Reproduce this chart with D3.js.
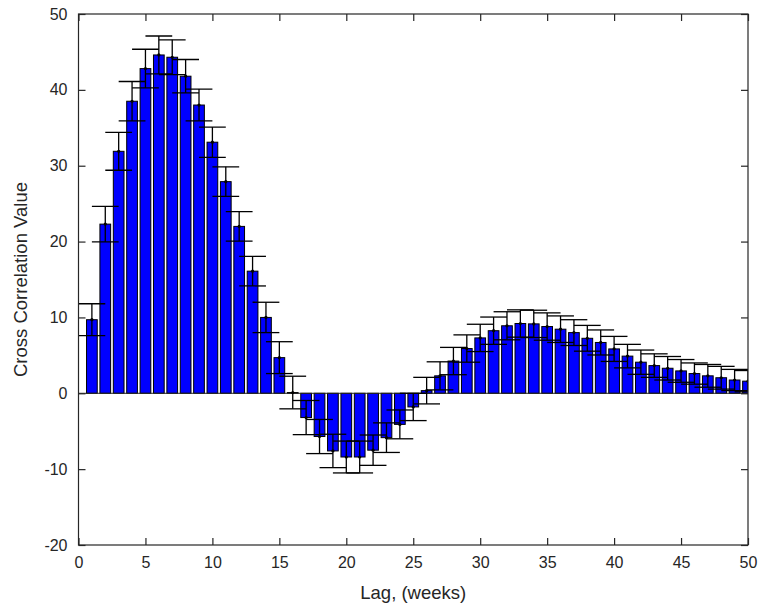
<!DOCTYPE html>
<html>
<head>
<meta charset="utf-8">
<script src="https://cdn.jsdelivr.net/npm/d3@7"></script>
<style>
  body { margin: 0; background: #fff; }
  svg text { font-family: "Liberation Sans", Arial, sans-serif; fill: #262626; }
</style>
</head>
<body>
<svg id="chart" width="759" height="610"></svg>
<script>
// Data
const lags = d3.range(1, 51);
const values = [
  9.7, 22.3, 31.9, 38.5, 42.8, 44.6, 44.3, 41.8, 38.0, 33.1,
  27.9, 22.0, 16.1, 10.0, 4.7, 0.1, -3.2, -5.7, -7.6, -8.4,
  -8.4, -7.5, -5.85, -4.1, -1.8, 0.35, 2.3, 4.25, 5.9, 7.3,
  8.25, 8.9, 9.2, 9.15, 8.8, 8.45, 8.0, 7.25, 6.7, 5.85,
  4.9, 4.1, 3.65, 3.3, 2.95, 2.6, 2.3, 2.05, 1.75, 1.6
];
const errors = [
  2.1, 2.35, 2.5, 2.6, 2.55, 2.5, 2.3, 2.2, 2.1, 2.0,
  1.95, 1.95, 1.95, 2.0, 2.1, 2.15, 2.25, 2.25, 2.2, 2.1,
  2.1, 2.0, 1.95, 1.9, 1.8, 1.75, 1.85, 1.8, 1.8, 1.8,
  1.8, 1.85, 1.8, 1.8, 1.8, 1.75, 1.7, 1.7, 1.65, 1.65,
  1.55, 1.6, 1.55, 1.55, 1.5, 1.4, 1.5, 1.5, 1.4, 1.4
];
const xTicks = [0, 5, 10, 15, 20, 25, 30, 35, 40, 45, 50];
const yTicks = [-20, -10, 0, 10, 20, 30, 40, 50];

const box = { left: 78.5, right: 748, top: 14, bottom: 545 };
const barWidth = 0.8;   // in x units
const capHalf = 1;      // cap half-width in x units
const tickLen = 7;

const svg = d3.select("#chart");

const x = d3.scaleLinear().domain([0, 50]).range([box.left, box.right]);
const y = d3.scaleLinear().domain([-20, 50]).range([box.bottom, box.top]);

svg.append("clipPath").attr("id", "plotclip")
  .append("rect")
  .attr("x", box.left).attr("y", box.top)
  .attr("width", box.right - box.left).attr("height", box.bottom - box.top);

const plot = svg.append("g").attr("clip-path", "url(#plotclip)");

// bars
plot.selectAll("rect.bar")
  .data(lags)
  .enter()
  .append("rect")
  .attr("class", "bar")
  .attr("x", (d) => x(d - barWidth / 2))
  .attr("width", x(barWidth) - x(0))
  .attr("y", (d, i) => y(Math.max(0, values[i])))
  .attr("height", (d, i) => Math.abs(y(values[i]) - y(0)))
  .attr("fill", "#0000ff")
  .attr("stroke", "#000")
  .attr("stroke-width", 1);

// baseline
plot.append("line")
  .attr("x1", box.left).attr("x2", box.right)
  .attr("y1", y(0)).attr("y2", y(0))
  .attr("stroke", "#262626").attr("stroke-width", 1);

// error bars
const eb = plot.selectAll("g.err")
  .data(lags)
  .enter()
  .append("g")
  .attr("class", "err")
  .attr("stroke", "#000")
  .attr("stroke-width", 1.3);

eb.append("line")
  .attr("x1", (d) => x(d)).attr("x2", (d) => x(d))
  .attr("y1", (d, i) => y(values[i] - errors[i]))
  .attr("y2", (d, i) => y(values[i] + errors[i]));

eb.append("line")
  .attr("x1", (d) => x(d - capHalf)).attr("x2", (d) => x(d + capHalf))
  .attr("y1", (d, i) => y(values[i] + errors[i]))
  .attr("y2", (d, i) => y(values[i] + errors[i]));

eb.append("line")
  .attr("x1", (d) => x(d - capHalf)).attr("x2", (d) => x(d + capHalf))
  .attr("y1", (d, i) => y(values[i] - errors[i]))
  .attr("y2", (d, i) => y(values[i] - errors[i]));

plot.selectAll("circle.pt")
  .data(lags)
  .enter()
  .append("circle")
  .attr("class", "pt")
  .attr("cx", (d) => x(d))
  .attr("cy", (d, i) => y(values[i]))
  .attr("r", 1.6)
  .attr("fill", "#000");

// axes box
svg.append("rect")
  .attr("x", box.left).attr("y", box.top)
  .attr("width", box.right - box.left).attr("height", box.bottom - box.top)
  .attr("fill", "none")
  .attr("stroke", "#262626")
  .attr("stroke-width", 1.2);

// ticks (inward, on all four sides), plain hyphen for negatives like MATLAB
const fmt = (d) => String(d);
const axB = d3.axisBottom(x).tickValues(xTicks).tickFormat(fmt).tickSizeInner(-tickLen).tickSizeOuter(0).tickPadding(12);
const axT = d3.axisTop(x).tickValues(xTicks).tickSizeInner(-tickLen).tickSizeOuter(0).tickFormat("");
const axL = d3.axisLeft(y).tickValues(yTicks).tickFormat(fmt).tickSizeInner(-tickLen).tickSizeOuter(0).tickPadding(11);
const axR = d3.axisRight(y).tickValues(yTicks).tickSizeInner(-tickLen).tickSizeOuter(0).tickFormat("");

function styleAxis(g) {
  g.select(".domain").remove();
  g.selectAll(".tick line").attr("stroke", "#262626").attr("stroke-width", 1.2);
  g.selectAll(".tick text").style("font-size", "16px").attr("fill", "#262626");
}

svg.append("g").attr("transform", `translate(0,${box.bottom})`).call(axB).call(styleAxis);
svg.append("g").attr("transform", `translate(0,${box.top})`).call(axT).call(styleAxis);
svg.append("g").attr("transform", `translate(${box.left},0)`).call(axL).call(styleAxis);
svg.append("g").attr("transform", `translate(${box.right},0)`).call(axR).call(styleAxis);

// axis labels
svg.append("text")
  .attr("x", (box.left + box.right) / 2)
  .attr("y", 599)
  .attr("text-anchor", "middle")
  .style("font-size", "18.5px")
  .text("Lag, (weeks)");

svg.append("text")
  .attr("transform", `translate(27,${(box.top + box.bottom) / 2}) rotate(-90)`)
  .attr("text-anchor", "middle")
  .style("font-size", "18.5px")
  .text("Cross Correlation Value");
</script>
</body>
</html>
